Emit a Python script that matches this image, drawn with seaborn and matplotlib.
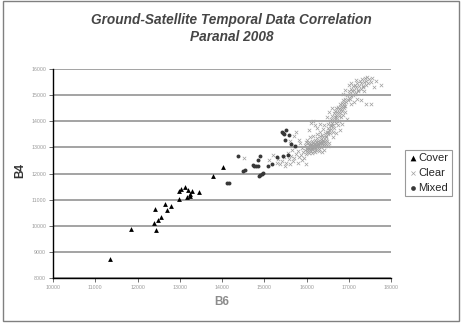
import matplotlib
matplotlib.use("Agg")
import matplotlib.pyplot as plt
from matplotlib.patches import Rectangle
import seaborn as sns

# Cover (triangles)
cover_b6 = [11339, 11850, 12449, 12402, 12425, 12488, 12559, 12646, 12709, 12795, 12992,
            12976, 13039, 13134, 13205, 13291, 13165, 13244, 13250, 13449, 13790, 14031]
cover_b4 = [8739, 9873, 9847, 10102, 10624, 10229, 10331, 10841, 10611, 10764, 11019,
            11312, 11414, 11465, 11376, 11312, 11108, 11146, 11210, 11274, 11905, 12250]

# Mixed (dots)
mixed_b6 = [14126, 14173, 14370, 14504, 14535, 14724, 14764, 14803, 14858, 14843, 14906,
            14866, 14898, 14937, 14976, 15079, 15181, 15299, 15409, 15449, 15472, 15512,
            15488, 15575, 15433, 15567, 15622, 15716]
mixed_b4 = [11628, 11628, 12679, 12103, 12141, 12320, 12295, 12269, 12269, 12526, 12679,
            11910, 11949, 12000, 12038, 12295, 12359, 12641, 13577, 13538, 13513, 13667,
            13295, 13487, 12679, 12705, 13128, 13050]

# Clear (crosses)
clear_b6 = [
    14530, 15110, 15200, 15290, 15320, 15380, 15420, 15460, 15480, 15520, 15560, 15580,
    15610, 15640, 15660, 15690, 15710, 15730, 15760, 15790, 15810, 15830, 15850, 15870,
    15890, 15900, 15920, 15940, 15960, 15980, 15990, 15700, 15760, 15620, 15820,
    16000, 16010, 16020, 16030, 16040, 16050, 16060, 16070, 16080, 16090, 16100, 16110,
    16120, 16130, 16140, 16150, 16160, 16170, 16180, 16190, 16200, 16210, 16220, 16230,
    16240, 16250, 16260, 16270, 16280, 16290, 16300, 16310, 16320, 16330, 16340, 16350,
    16360, 16370, 16380, 16390, 16400, 16410, 16420, 16430, 16440, 16450, 16460, 16470,
    16480, 16490, 15960, 15980, 16020, 16060, 16130, 16210, 16290, 16370, 16410, 16500,
    16540, 16080, 16160, 16240, 16320, 16100, 16150, 16200, 16050, 16260,
    16500, 16510, 16520, 16530, 16550, 16560, 16570, 16580, 16590, 16600, 16610, 16620,
    16630, 16640, 16650, 16660, 16670, 16680, 16690, 16700, 16710, 16720, 16730, 16740,
    16750, 16760, 16770, 16780, 16790, 16800, 16810, 16820, 16830, 16840, 16850, 16860,
    16870, 16880, 16890, 16900, 16910, 16920, 16940, 16790, 16850, 16950, 16700, 16620,
    16420, 16380, 16480, 16540, 16330, 16600,
    16960, 16980, 17000, 17010, 17030, 17050, 17060, 17080, 17100, 17110, 17130, 17150,
    17160, 17180, 17200, 17220, 17240, 17260, 17280, 17300, 17320, 17340, 17360, 17380,
    17400, 17420, 17440, 17460, 17490, 17520, 17550, 17770, 17520, 17410, 17300, 17200,
    17060, 16870, 16920, 17000, 17060, 17180, 17600, 17650, 17350, 17120,
    16040, 16110, 16170, 16230, 16280, 16340, 16190, 16260, 16330, 16140, 16070, 16400,
    16450, 16510, 16580, 16640, 16710, 16760, 16820, 16880, 17020, 17140, 17230, 17330,
]
clear_b4 = [
    12600, 12520, 12700, 12420, 12560, 12350, 12480, 12650, 12300, 12420, 12780, 12550,
    12350, 12680, 12900, 12480, 12600, 13050, 12750, 12420, 12880, 12620, 13150, 12720,
    12500, 12980, 12820, 12600, 13100, 12750, 12380, 13450, 13580, 13250, 13300,
    12880, 13020, 12950, 13150, 12820, 13080, 12970, 13220, 12900, 13050, 13130, 12850,
    13000, 13250, 12930, 13100, 13180, 12880, 13030, 13300, 12960, 13120, 13200, 12900,
    13060, 13350, 13000, 13160, 13260, 12950, 13100, 13420, 13050, 13200, 13320, 13000,
    13150, 13480, 13100, 13260, 13380, 13060, 13200, 13550, 13150, 13300, 13440, 13120,
    13250, 13600, 12900, 13200, 13300, 12780, 12780, 12820, 12850, 12820, 12900, 13050,
    13150, 13380, 13450, 13500, 13600, 13950, 14020, 13850, 13650, 13750,
    13750, 13500, 13900, 13650, 14000, 13550, 13800, 14100, 13700, 13950, 14200, 13600,
    13850, 14300, 14050, 13750, 14150, 14400, 13950, 14250, 14500, 14050, 14350, 13850,
    14550, 14200, 14450, 14000, 14650, 14300, 14550, 14150, 14700, 14400, 14600, 14250,
    14800, 14500, 14700, 14350, 14850, 14600, 14750, 13650, 13900, 14100, 13550, 13400,
    13850, 13700, 14150, 14350, 13900, 14500,
    15000, 14800, 15150, 14900, 15050, 15250, 14950, 15150, 15350, 15000, 15200, 15400,
    15100, 15300, 15450, 15200, 15350, 15550, 15250, 15450, 15600, 15350, 15500, 15650,
    15400, 15550, 15700, 15450, 15600, 15500, 15650, 15400, 14650, 14650, 14800, 14850,
    14650, 15050, 15200, 15400, 15450, 15580, 15300, 15550, 15150, 14750,
    13000, 13080, 13140, 13050, 13180, 13250, 13010, 13110, 13150, 12990, 12940, 13300,
    13400, 13600, 13850, 14000, 14150, 14350, 14450, 14600, 14850, 15050, 15150, 15300,
]

x_ticks = list(range(10000, 18001, 1000))
y_ticks = list(range(8000, 16001, 1000))

sns.set_theme(style="white")
plt.rcParams["font.family"] = ["Liberation Sans", "DejaVu Sans"]

fig = plt.figure(figsize=(4.63, 3.24), dpi=100)
ax = fig.add_axes([53 / 463, 1 - 278 / 324, 338 / 463, 209 / 324])

sns.scatterplot(x=cover_b6, y=cover_b4, ax=ax, marker="^", color="black",
                s=12, linewidth=0, label="Cover", zorder=3)
sns.scatterplot(x=clear_b6, y=clear_b4, ax=ax, marker="x", color="#a0a0a0",
                s=6, linewidth=0.5, label="Clear", zorder=3)
sns.scatterplot(x=mixed_b6, y=mixed_b4, ax=ax, marker="o", color="#383838",
                s=8, linewidth=0, label="Mixed", zorder=4)

ax.set_xlim(10000, 18000)
ax.set_ylim(8000, 16000)
ax.set_xticks(x_ticks)
ax.set_yticks(y_ticks)
ax.set_xlabel("")
ax.set_ylabel("")
ax.yaxis.grid(True, color="#9c9c9c", linewidth=1.3)
ax.xaxis.grid(False)
ax.set_axisbelow(True)
for side in ["top", "right"]:
    ax.spines[side].set_visible(False)
for side in ["left", "bottom"]:
    ax.spines[side].set_color("black")
    ax.spines[side].set_linewidth(1.0)
ax.tick_params(axis="both", direction="out", length=3, width=0.6, color="#555555",
               labelsize=3.8, labelcolor="#9a9a9a", pad=2, bottom=True, left=True)

title_kw = dict(ha="center", va="center", fontsize=9.8, fontweight="bold",
                style="italic", color="#454545")
fig.text(0.5, 1 - 20 / 324, "Ground-Satellite Temporal Data Correlation", **title_kw)
fig.text(0.5, 1 - 37 / 324, "Paranal 2008", **title_kw)

fig.text(20 / 463, 1 - 170 / 324, "B4", rotation=90, ha="center", va="center",
         fontsize=8.5, fontweight="bold", color="#333333")
fig.text(222 / 463, 1 - 302 / 324, "B6", ha="center", va="center",
         fontsize=8.5, fontweight="bold", color="#8c8c8c")

handles, labels = ax.get_legend_handles_labels()
leg = ax.legend(handles, labels, loc="center left",
                bbox_to_anchor=(405 / 463, 1 - 173 / 324), bbox_transform=fig.transFigure,
                frameon=True, fancybox=False, edgecolor="#808080", fontsize=8,
                handletextpad=0.1, handlelength=0.8, borderpad=0.3, labelspacing=0.45,
                borderaxespad=0, markerscale=1.2)
leg.get_frame().set_linewidth(0.8)

fig.add_artist(Rectangle((3 / 463, 1 - 321 / 324), 456 / 463, 320 / 324,
                         transform=fig.transFigure, fill=False,
                         edgecolor="#808080", linewidth=1.0))

fig.savefig("out.png", dpi=100)
